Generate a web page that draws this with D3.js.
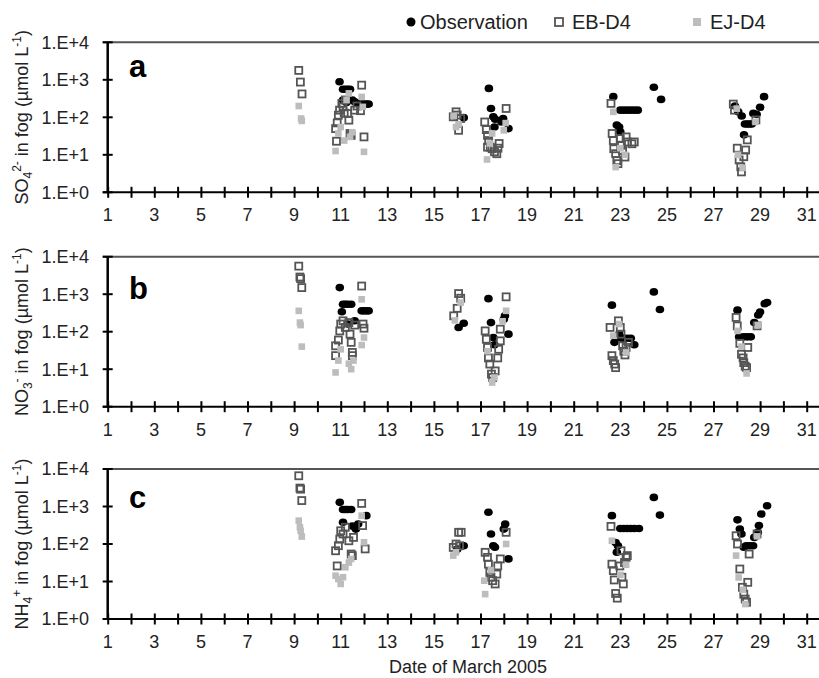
<!DOCTYPE html>
<html>
<head>
<meta charset="utf-8">
<script src="https://cdn.jsdelivr.net/npm/d3@7"></script>
<style>
  body { margin: 0; background: #fff; }
  svg { display: block; font-family: "Liberation Sans", Arial, sans-serif; }
</style>
</head>
<body>
<svg id="chart" width="819" height="678"></svg>
<script>
// x axis: days of March 2005
var dayTicks = d3.range(1, 32);
var dayLabels = d3.range(1, 32, 2);
var decadeTicks = [1, 10, 100, 1000, 10000];
var decadeLabels = ['1.E+0', '1.E+1', '1.E+2', '1.E+3', '1.E+4'];
var seriesNames = ['Observation', 'EB-D4', 'EJ-D4'];

// panel a: sulfate [day, umol/L]
var obsSO4 = [
  [10.95, 890], [11.1, 560], [11.2, 560], [11.3, 560], [11.4, 560], [11.1, 290], [11.25, 250],
  [11.5, 290], [11.6, 260], [11.7, 240], [11.9, 225], [12.0, 225], [12.1, 225], [12.2, 225],
  [16.28, 98],
  [17.36, 590], [17.45, 172], [17.55, 103], [17.63, 89], [17.6, 55], [17.9, 75], [17.97, 93], [18.2, 50],
  [22.7, 355], [22.85, 62], [22.95, 55], [23.0, 41], [23.0, 155], [23.15, 155], [23.3, 155],
  [23.45, 155], [23.6, 155], [23.75, 155],
  [24.44, 630], [24.75, 300],
  [27.92, 200], [28.06, 141], [28.21, 108], [28.31, 34], [28.35, 66], [28.45, 66], [28.55, 66],
  [28.64, 66], [28.71, 127], [28.85, 120], [29.0, 185], [29.17, 355]
];
var ebSO4 = [
  [9.2, 1780], [9.27, 870], [9.34, 420],
  [10.78, 50], [10.82, 23], [10.85, 71], [10.9, 114], [10.95, 155], [11.05, 235], [11.1, 190],
  [11.15, 130], [11.2, 290], [11.3, 126], [11.35, 84], [11.4, 37], [11.45, 33], [11.6, 155],
  [11.7, 200], [11.85, 150], [11.9, 720], [12.0, 30],
  [15.83, 103], [15.95, 140], [16.0, 115], [16.06, 45], [16.15, 93],
  [17.18, 75], [17.25, 47], [17.3, 33], [17.35, 24], [17.3, 16], [17.42, 16], [17.5, 14.5],
  [17.6, 12], [17.7, 10.7], [17.8, 20], [17.75, 15], [18.1, 172],
  [22.6, 235], [22.65, 37], [22.7, 24], [22.72, 14.5], [22.8, 10.7], [22.85, 7], [22.9, 5.8],
  [23.0, 27], [23.05, 18], [23.1, 13], [23.2, 8.7], [23.25, 30], [23.3, 22], [23.5, 19.7], [23.6, 22],
  [27.85, 225], [27.9, 155], [28.02, 15], [28.1, 7.3], [28.17, 4.8], [28.2, 3.5], [28.3, 8.9],
  [28.38, 13.4], [28.45, 25], [28.82, 85]
];
var ejSO4 = [
  [9.2, 200], [9.3, 93], [9.33, 80],
  [10.78, 12.6], [10.9, 37], [11.0, 55], [11.15, 24], [11.25, 290], [11.35, 435], [11.4, 30],
  [11.5, 40], [11.9, 350], [11.95, 190], [12.0, 12],
  [15.85, 110], [16.06, 65], [15.95, 55],
  [17.28, 7.5], [17.4, 20], [17.5, 37], [18.0, 45], [18.08, 70],
  [22.7, 140], [22.8, 4.7], [23.0, 15], [23.2, 10],
  [28.0, 170], [28.05, 10], [28.25, 4.5], [28.8, 75]
];

// panel b: nitrate
var obsNO3 = [
  [10.96, 1500], [11.1, 540], [11.2, 540], [11.3, 540], [11.45, 540], [11.05, 340], [11.6, 195],
  [11.3, 160], [11.9, 360], [12.0, 360], [12.1, 360], [12.2, 360],
  [16.06, 130], [16.28, 168],
  [17.34, 760], [17.45, 175], [17.55, 70], [17.6, 45], [18.0, 215], [18.05, 265], [18.2, 86],
  [22.64, 510], [22.75, 52], [22.95, 86], [23.05, 67], [23.15, 67], [23.3, 67], [23.45, 67], [23.6, 45],
  [24.44, 1150], [24.7, 390],
  [28.03, 375], [28.1, 73], [28.3, 73], [28.45, 73], [28.6, 73], [28.75, 175], [28.92, 280],
  [29.0, 335], [29.2, 560], [29.3, 600]
];
var ebNO3 = [
  [9.2, 5600], [9.25, 2870], [9.28, 2600], [9.33, 1500],
  [10.78, 42], [10.78, 23], [10.9, 60], [10.96, 105], [11.0, 160], [11.1, 195], [11.2, 130],
  [11.35, 175], [11.4, 86], [11.45, 52], [11.5, 28], [11.5, 23], [11.6, 150], [11.9, 1650],
  [11.96, 160], [12.0, 124],
  [15.85, 265], [16.0, 420], [16.06, 1040], [16.15, 780],
  [17.2, 105], [17.25, 63], [17.3, 38], [17.34, 20], [17.4, 13.7], [17.47, 7.4], [17.52, 6],
  [17.63, 9], [17.74, 20], [17.78, 34], [17.85, 57], [17.85, 117], [18.1, 850],
  [22.56, 130], [22.64, 23], [22.7, 17], [22.76, 13.7], [22.8, 11], [22.92, 195], [23.0, 130],
  [23.03, 86], [23.1, 42], [23.15, 30], [23.2, 24], [23.25, 38], [23.35, 52],
  [27.97, 240], [28.02, 143], [28.13, 49], [28.2, 25], [28.27, 20], [28.3, 15], [28.36, 12],
  [28.42, 11], [28.47, 38], [28.87, 143]
];
var ejNO3 = [
  [9.2, 360], [9.25, 175], [9.28, 150], [9.33, 40],
  [10.78, 8.2], [10.9, 17], [11.0, 34], [11.35, 14], [11.45, 10], [11.55, 17], [11.9, 730],
  [12.0, 70], [11.9, 44],
  [15.9, 200], [16.15, 600],
  [17.5, 4.4], [17.6, 6], [17.3, 30], [18.1, 360], [17.95, 190],
  [22.7, 78], [22.95, 160], [23.25, 28],
  [28.03, 105], [28.2, 40], [28.42, 7.7], [28.9, 150]
];

// panel c: ammonium
var obsNH4 = [
  [10.96, 1290], [11.1, 830], [11.2, 830], [11.3, 830], [11.45, 830], [11.1, 380], [11.65, 250],
  [11.75, 340], [12.1, 570], [11.5, 300],
  [16.0, 73], [16.28, 90],
  [17.34, 700], [17.45, 185], [17.55, 90], [17.62, 82], [18.0, 250], [18.06, 340], [18.2, 40],
  [22.64, 570], [22.8, 110], [22.9, 90], [22.85, 60], [23.0, 260], [23.15, 260], [23.3, 260],
  [23.45, 260], [23.6, 260], [23.8, 260],
  [24.44, 1750], [24.7, 590],
  [28.03, 440], [28.13, 250], [28.2, 185], [28.3, 82], [28.4, 90], [28.55, 90], [28.7, 90],
  [28.75, 150], [28.9, 205], [28.95, 310], [29.05, 630], [29.3, 1050]
];
var ebNH4 = [
  [9.2, 6600], [9.25, 3100], [9.28, 2900], [9.33, 1440],
  [10.78, 66], [10.85, 26], [10.9, 90], [10.96, 135], [11.0, 225], [11.1, 185], [11.2, 280],
  [11.35, 122], [11.45, 54], [11.5, 49], [11.55, 150], [11.9, 1210], [11.94, 310], [12.05, 74],
  [15.83, 81], [16.06, 205], [16.17, 205], [15.95, 100], [16.1, 90],
  [17.2, 60], [17.3, 44], [17.34, 29], [17.4, 17.5], [17.45, 13], [17.52, 10.5], [17.63, 8.6],
  [17.7, 15.8], [17.74, 26], [17.85, 40], [18.1, 205],
  [22.6, 295], [22.64, 29], [22.7, 19.5], [22.74, 11], [22.8, 4.8], [22.87, 3.6], [22.98, 26],
  [23.07, 13], [23.13, 8.6], [23.18, 32], [23.25, 44], [23.3, 49], [23.03, 66],
  [27.97, 166], [28.03, 100], [28.13, 21.5], [28.24, 7], [28.3, 4.6], [28.36, 3.4], [28.42, 2.8],
  [28.47, 9.5], [28.53, 54], [28.87, 185]
];
var ejNH4 = [
  [9.2, 420], [9.25, 280], [9.28, 225], [9.33, 158],
  [10.78, 14.3], [10.9, 11.6], [11.0, 8.6], [11.1, 13], [11.2, 24], [11.35, 32], [11.45, 40],
  [11.9, 570], [12.0, 111],
  [15.83, 49], [15.95, 60],
  [17.2, 4.6], [17.16, 10.5], [17.45, 20], [18.1, 100],
  [22.64, 122], [23.0, 15], [23.25, 28],
  [27.97, 49], [28.08, 12.8], [28.26, 6], [28.36, 2.5], [28.87, 160]
];

var svg = d3.select('#chart');

var left = 107.7,
    dayWidth = 23.3,
    panelHeight = 150;

var x = d3.scaleLinear()
    .domain([1, 32])
    .range([left, left + 31 * dayWidth]);

var panels = [
  { letter: 'a', top: 42.3, letterY: 77, ion: 'SO', sub: '4', sup: '2-', obs: obsSO4, eb: ebSO4, ej: ejSO4 },
  { letter: 'b', top: 256.7, letterY: 299, ion: 'NO', sub: '3', sup: '-', obs: obsNO3, eb: ebNO3, ej: ejNO3 },
  { letter: 'c', top: 469, letterY: 508, ion: 'NH', sub: '4', sup: '+', obs: obsNH4, eb: ebNH4, ej: ejNH4 }
];

panels.forEach(function(p) {
    drawPanel(p);
});

function drawPanel(p) {
    var y = d3.scaleLog()
        .domain([1, 10000])
        .range([p.top + panelHeight, p.top]);

    var g = svg.append('g');

    // top border
    g.append('line')
        .attr('x1', left - 5).attr('x2', 819)
        .attr('y1', y(10000)).attr('y2', y(10000))
        .attr('stroke', '#555').attr('stroke-width', 2);

    // x axis
    var xAxis = d3.axisBottom(x)
        .tickValues(dayTicks)
        .tickSize(0)
        .tickFormat('');
    var xg = g.append('g')
        .attr('transform', 'translate(0,' + y(1) + ')')
        .call(xAxis);
    xg.select('.domain').remove();
    xg.append('line')
        .attr('x1', left - 5).attr('x2', 819)
        .attr('stroke', '#000').attr('stroke-width', 2);
    xg.selectAll('.tick').append('line')
        .attr('y1', -5.5).attr('y2', 5.5)
        .attr('stroke', '#000').attr('stroke-width', 2);

    g.selectAll('.xlab')
        .data(dayLabels)
        .enter().append('text')
        .attr('class', 'xlab')
        .attr('x', function(d) { return x(d); })
        .attr('y', y(1) + 29)
        .attr('text-anchor', 'middle')
        .style('font-size', '18px')
        .attr('fill', '#222')
        .text(function(d) { return d; });

    // y axis
    g.append('line')
        .attr('x1', left).attr('x2', left)
        .attr('y1', y(10000)).attr('y2', y(1))
        .attr('stroke', '#000').attr('stroke-width', 2.5);
    g.selectAll('.ytick')
        .data(decadeTicks)
        .enter().append('line')
        .attr('x1', left - 5).attr('x2', left + 5)
        .attr('y1', function(d) { return y(d); })
        .attr('y2', function(d) { return y(d); })
        .attr('stroke', '#000').attr('stroke-width', 2);
    g.selectAll('.ylab')
        .data(decadeTicks)
        .enter().append('text')
        .attr('x', 89)
        .attr('y', function(d) { return y(d); })
        .attr('dy', '0.35em')
        .attr('text-anchor', 'end')
        .style('font-size', '18px')
        .attr('fill', '#222')
        .text(function(d, i) { return decadeLabels[i]; });

    // y title
    var t = g.append('text')
        .attr('transform', 'translate(28,' + (p.top + panelHeight / 2) + ') rotate(-90)')
        .attr('text-anchor', 'middle')
        .style('font-size', '18px')
        .attr('fill', '#222');
    t.append('tspan').text(p.ion);
    t.append('tspan').attr('dy', 4).style('font-size', '12px').text(p.sub);
    t.append('tspan').attr('dy', -11).style('font-size', '12px').text(p.sup);
    t.append('tspan').attr('dy', 7).text(' in fog (\u00b5mol L');
    t.append('tspan').attr('dy', -7).style('font-size', '12px').text('-1');
    t.append('tspan').attr('dy', 7).text(')');

    // panel letter
    g.append('text')
        .attr('x', 129)
        .attr('y', p.letterY)
        .style('font-size', '31px')
        .style('font-weight', 'bold')
        .text(p.letter);

    // observation dots
    g.selectAll('.obs')
        .data(p.obs)
        .enter().append('ellipse')
        .attr('cx', function(d) { return x(d[0]); })
        .attr('cy', function(d) { return y(d[1]); })
        .attr('rx', 4.3).attr('ry', 3.8)
        .attr('fill', '#000');

    // EB-D4 open squares
    g.selectAll('.eb')
        .data(p.eb)
        .enter().append('rect')
        .attr('x', function(d) { return x(d[0]) - 3.5; })
        .attr('y', function(d) { return y(d[1]) - 3.5; })
        .attr('width', 7).attr('height', 7)
        .attr('fill', 'none')
        .attr('stroke', '#555').attr('stroke-width', 1.8);

    // EJ-D4 grey squares
    g.selectAll('.ej')
        .data(p.ej)
        .enter().append('rect')
        .attr('x', function(d) { return x(d[0]) - 3.3; })
        .attr('y', function(d) { return y(d[1]) - 3.3; })
        .attr('width', 6.6).attr('height', 6.6)
        .attr('fill', '#bdbdbd');
}

// legend
var legend = svg.append('g').style('font-size', '20px').attr('fill', '#222');
var legendX = [411, 559, 697];
legend.append('circle').attr('cx', legendX[0]).attr('cy', 22).attr('r', 4.5).attr('fill', '#000');
legend.append('rect').attr('x', legendX[1] - 4).attr('y', 18).attr('width', 8).attr('height', 8)
    .attr('fill', 'none').attr('stroke', '#555').attr('stroke-width', 1.8);
legend.append('rect').attr('x', legendX[2] - 4).attr('y', 18).attr('width', 8).attr('height', 8)
    .attr('fill', '#bdbdbd');
seriesNames.forEach(function(name, i) {
    legend.append('text')
        .attr('x', legendX[i] + (i === 0 ? 9 : 13))
        .attr('y', 29)
        .text(name);
});

// x title
svg.append('text')
    .attr('x', 468)
    .attr('y', 673)
    .attr('text-anchor', 'middle')
    .style('font-size', '18px')
    .attr('fill', '#222')
    .text('Date of March 2005');
</script>
</body>
</html>
